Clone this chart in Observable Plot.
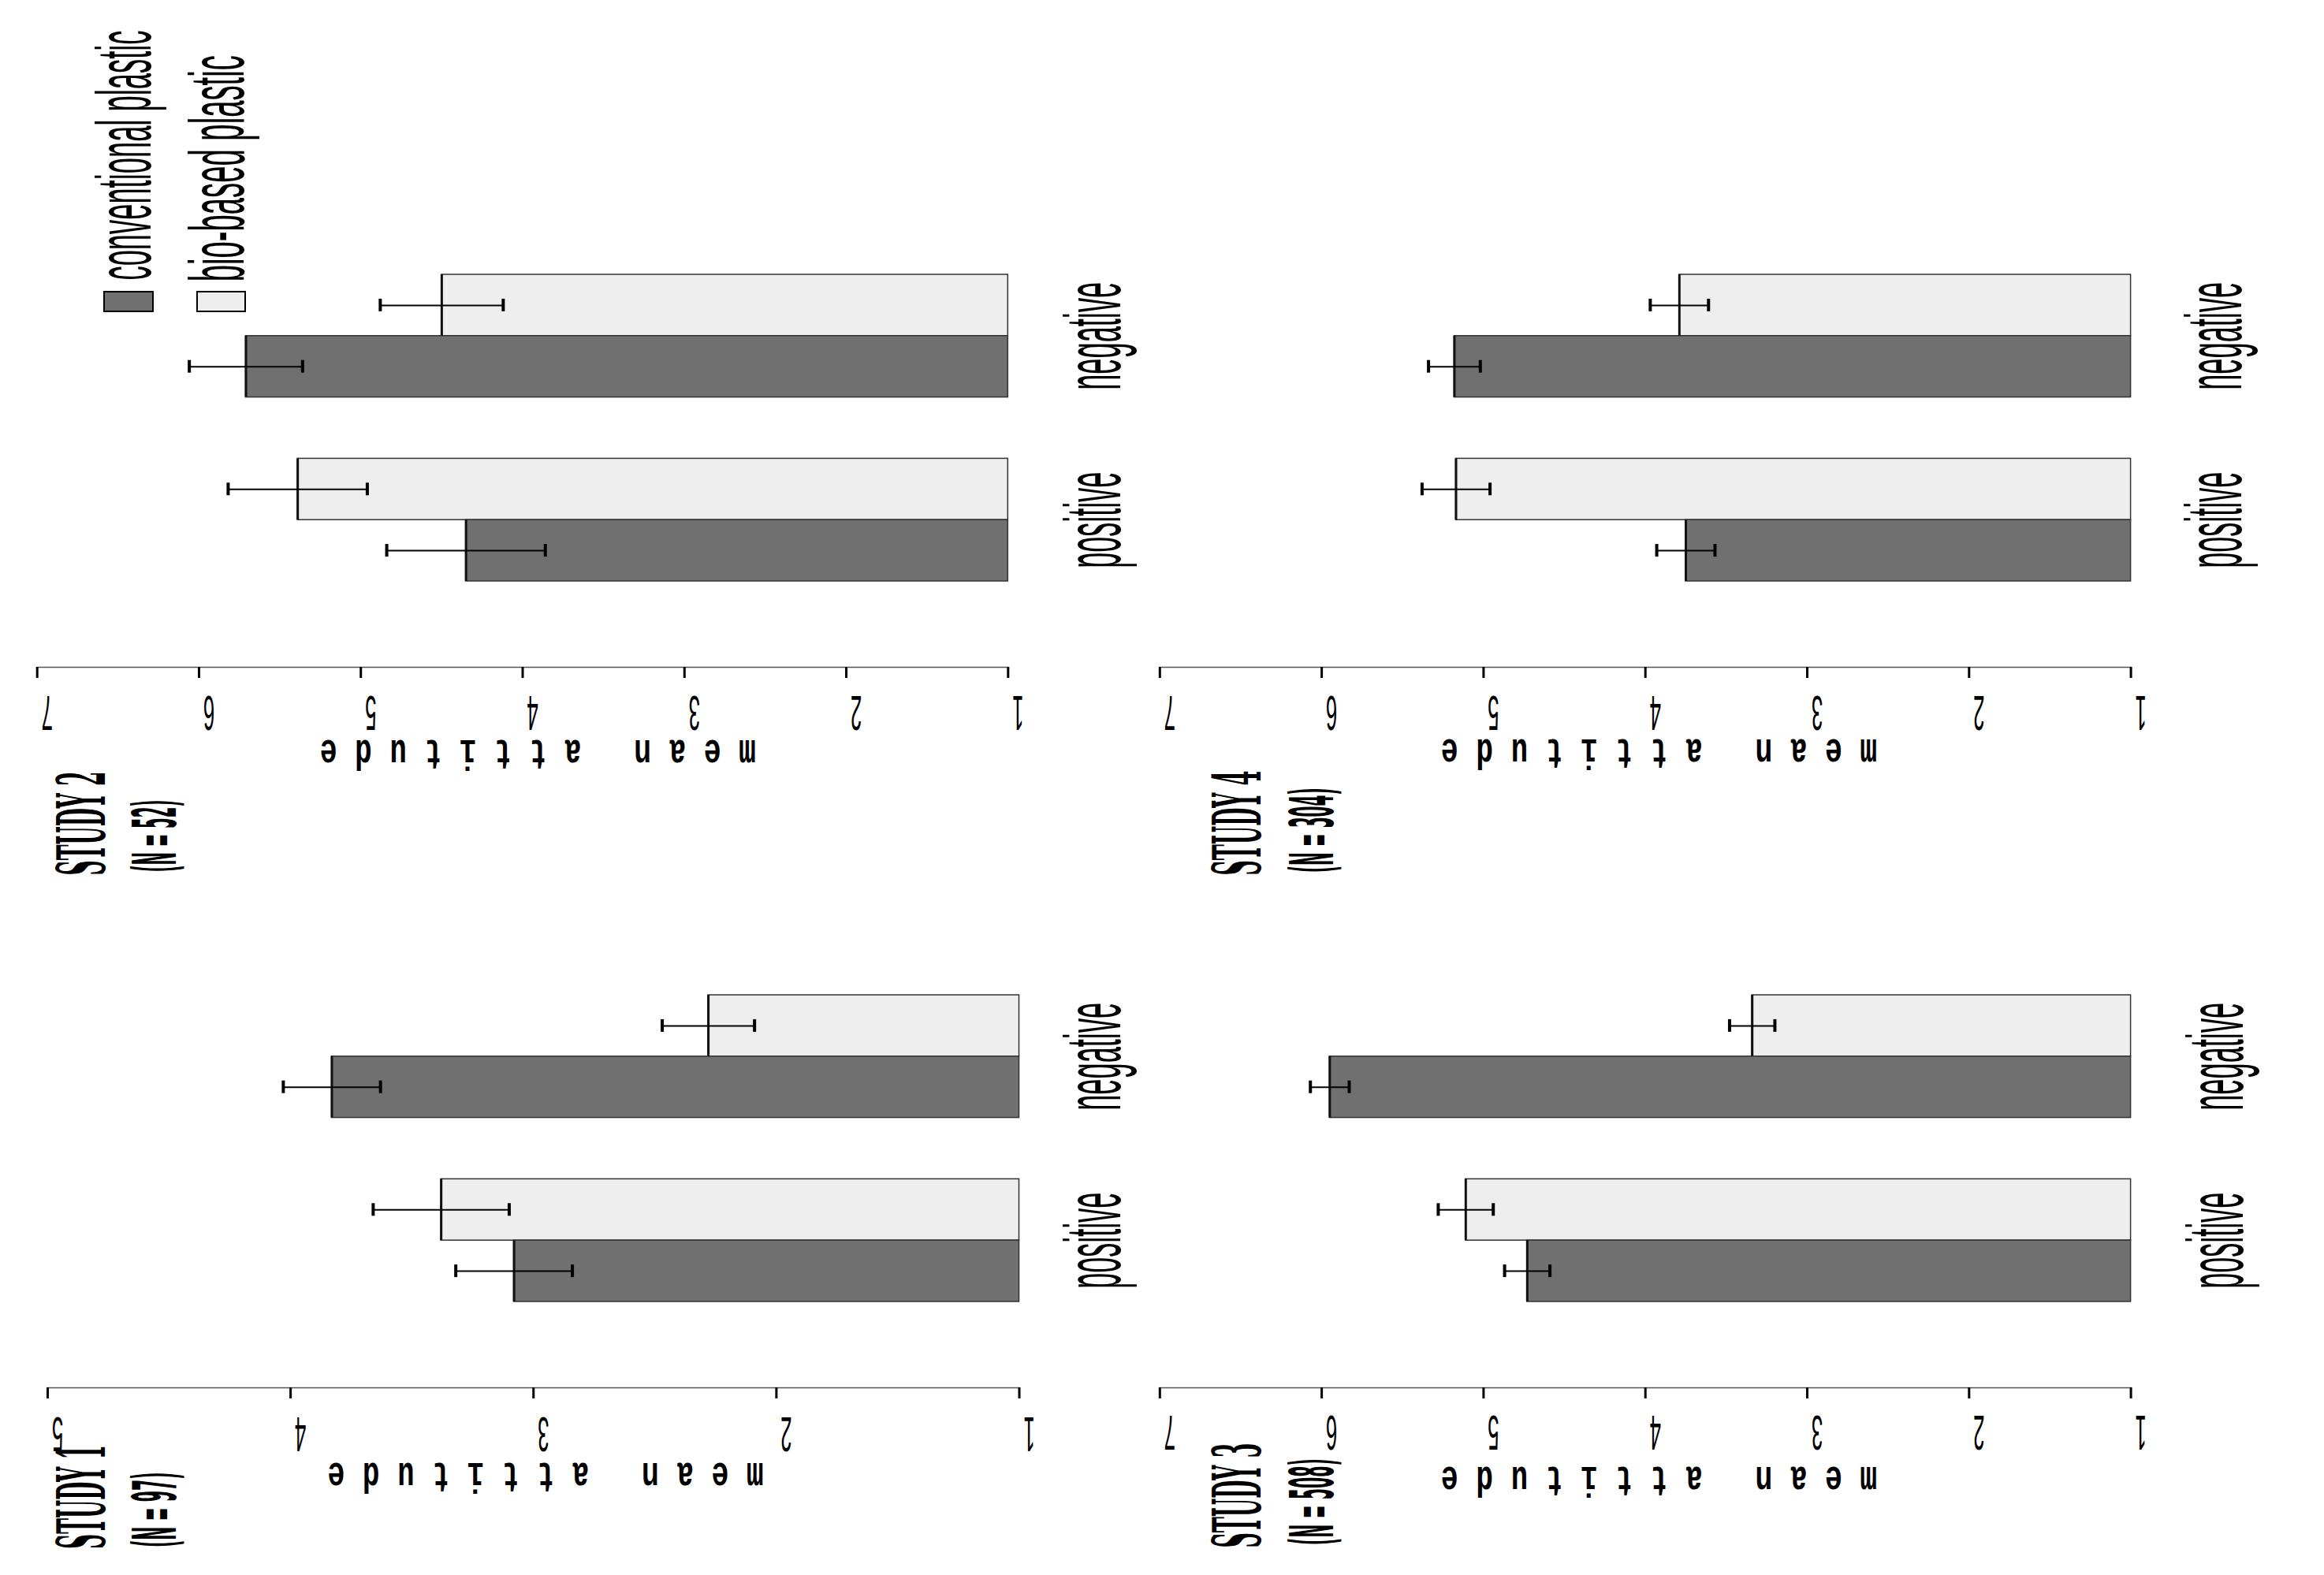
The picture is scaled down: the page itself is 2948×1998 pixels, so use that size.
<!DOCTYPE html>
<html>
<head>
<meta charset="utf-8">
<script src="https://cdn.jsdelivr.net/npm/d3@7"></script>
<script src="https://cdn.jsdelivr.net/npm/@observablehq/plot@0.6"></script>
<style>
html, body { margin: 0; padding: 0; background: #fff; }
#page { position: relative; width: 2948px; height: 1998px; overflow: hidden; background: #fff; }
#page svg { position: absolute; }
</style>
</head>
<body>
<div id="page"></div>
<script>
// ---------------- data ----------------
const studies = ["STUDY 1", "STUDY 2", "STUDY 3", "STUDY 4"];
const sampleSizes = ["(N = 97)", "(N = 52)", "(N = 508)", "(N = 304)"];
const framings = ["negative", "positive"];
const materials = ["conventional plastic", "bio-based plastic"];
const materialColors = ["#707070", "#eeeeee"];
const scaleMin = 1;
const scaleMax = [5, 7, 7, 7];
const tickLabels = [
  [1, 2, 3, 4, 5],
  [1, 2, 3, 4, 5, 6, 7],
  [1, 2, 3, 4, 5, 6, 7],
  [1, 2, 3, 4, 5, 6, 7]
];
const convNegative = [3.83, 5.71, 5.95, 5.18];
const bioNegative  = [2.28, 4.50, 3.34, 3.79];
const convPositive = [3.08, 4.35, 4.73, 3.75];
const bioPositive  = [3.38, 5.39, 5.11, 5.17];
const convNegativeErr = [0.20, 0.35, 0.12, 0.16];
const bioNegativeErr  = [0.19, 0.38, 0.14, 0.18];
const convPositiveErr = [0.24, 0.49, 0.14, 0.18];
const bioPositiveErr  = [0.28, 0.43, 0.17, 0.21];
const axisLabel = "mean attitude";

// ---------------- layout (positions / styles) ----------------
const H = 999;
const BAR = 77.8;   // bar thickness
const CAP = 8;      // half cap length
const layout = [
  {left: 0,    top: 999, width: 1474, mL: 60,   mR: 181.5, barTop: 263, axisY: 761, catDx: 127.5,
   titleDx: 72,    titleDy: 204.5, titleLen: 132, nDx: 166,   nDy: 202.6, nLen: 95.6, tickDy: 37, labDy: 95, labDx: 4},
  {left: 0,    top: 0,   width: 1474, mL: 46.7, mR: 195.7, barTop: 348, axisY: 846, catDx: 142,
   titleDx: 85.3,  titleDy: 264,   titleLen: 132, nDx: 179.3, nDy: 260,   nLen: 92,   tickDy: 36, labDy: 92, labDx: 8, legend: true},
  {left: 1420, top: 999, width: 1528, mL: 50.8, mR: 245.4, barTop: 263, axisY: 761, catDx: 142,
   titleDx: 127.2, titleDy: 203,   titleLen: 133, nDx: 223.2, nDy: 199.7, nLen: 110,  tickDy: 35, labDy: 100, labDx: 6},
  {left: 1420, top: 0,   width: 1528, mL: 50.8, mR: 245.4, barTop: 348, axisY: 846, catDx: 140,
   titleDx: 127.2, titleDy: 264,   titleLen: 133, nDx: 223.2, nDy: 260.7, nLen: 108,  tickDy: 36, labDy: 91, labDx: 6}
];
const catLen = {negative: 137, positive: 122};
const legendLen = {"conventional plastic": 317, "bio-based plastic": 287};

function rowsFor(s) {
  return [
    {framing: framings[0], material: materials[0], mean: convNegative[s], err: convNegativeErr[s]},
    {framing: framings[0], material: materials[1], mean: bioNegative[s],  err: bioNegativeErr[s]},
    {framing: framings[1], material: materials[0], mean: convPositive[s], err: convPositiveErr[s]},
    {framing: framings[1], material: materials[1], mean: bioPositive[s],  err: bioPositiveErr[s]}
  ];
}

function panel(s) {
  const L = layout[s];
  const rows = rowsFor(s);
  const conv = rows.filter(d => d.material === materials[0]);
  const bio = rows.filter(d => d.material === materials[1]);
  const near = BAR / 2 - CAP;           // inset on the near side of a half band
  const far = 2 * BAR - BAR / 2 - CAP;  // inset on the far side
  const lo = d => d.mean - d.err;
  const hi = d => d.mean + d.err;

  const marks = [
    Plot.barX(bio,  {y: "framing", x1: () => scaleMin, x2: "mean", fill: "material", stroke: "#333", strokeWidth: 1.5, insetBottom: BAR}),
    Plot.barX(conv, {y: "framing", x1: () => scaleMin, x2: "mean", fill: "material", stroke: "#333", strokeWidth: 1.5, insetTop: BAR}),
    Plot.tickX(bio,  {x: "mean", y: "framing", insetBottom: BAR, stroke: "#111", strokeWidth: 3}),
    Plot.tickX(conv, {x: "mean", y: "framing", insetTop: BAR, stroke: "#111", strokeWidth: 3}),
    // error bars
    Plot.ruleY(bio,  {y: "framing", x1: lo, x2: hi, dy: -BAR / 2, stroke: "#000", strokeWidth: 2}),
    Plot.ruleY(conv, {y: "framing", x1: lo, x2: hi, dy: BAR / 2, stroke: "#000", strokeWidth: 2}),
    Plot.tickX(bio,  {x: lo, y: "framing", insetTop: near, insetBottom: far, stroke: "#000", strokeWidth: 4}),
    Plot.tickX(bio,  {x: hi, y: "framing", insetTop: near, insetBottom: far, stroke: "#000", strokeWidth: 4}),
    Plot.tickX(conv, {x: lo, y: "framing", insetTop: far, insetBottom: near, stroke: "#000", strokeWidth: 4}),
    Plot.tickX(conv, {x: hi, y: "framing", insetTop: far, insetBottom: near, stroke: "#000", strokeWidth: 4}),
    // axis
    Plot.frame({anchor: "bottom", stroke: "#555", strokeWidth: 1.5}),
    Plot.axisX({ticks: tickLabels[s], tickSize: 14, stroke: "#000", strokeWidth: 3, fill: "none"}),
    Plot.text(tickLabels[s], {x: d => d, text: d => String(d), frameAnchor: "bottom", rotate: 180,
      textAnchor: "middle", lineAnchor: "bottom", dy: L.tickDy, dx: 12.5, fontSize: 63,
      fontFamily: "Liberation Sans", fill: "#000", ariaDescription: "tick-label"}),
    Plot.text([axisLabel], {frameAnchor: "bottom", rotate: 180, textAnchor: "middle", lineAnchor: "bottom",
      dy: L.labDy, dx: L.labDx, fontSize: 54, fontWeight: "bold", fontFamily: "Liberation Mono", fill: "#000", ariaDescription: "axis-label"}),
    // category labels
    Plot.text(framings, {y: d => d, text: d => d, frameAnchor: "right", rotate: -90, textAnchor: "middle",
      lineAnchor: "bottom", dx: L.catDx, fontSize: 100, fontFamily: "Liberation Sans", fill: "#000", ariaDescription: "category"}),
    // study titles
    Plot.text([studies[s]], {frameAnchor: "bottom-left", rotate: -90, textAnchor: "start", lineAnchor: "bottom",
      dx: L.titleDx, dy: L.titleDy, fontSize: 85, fontWeight: "bold", fontFamily: "DejaVu Serif", fill: "#000", ariaDescription: "title"}),
    Plot.text([sampleSizes[s]], {frameAnchor: "bottom-left", rotate: -90, textAnchor: "start", lineAnchor: "bottom",
      dx: L.nDx - 4, dy: L.nDy, fontSize: 76, fontWeight: "bold", fontFamily: "DejaVu Sans", fill: "#000", ariaDescription: "sample"})
  ];

  if (L.legend) {
    const frameRight = L.width - L.mR;
    const frameBottom = L.axisY;
    const box = (x1, x2, y1, y2) => ({insetLeft: x1 - L.mL, insetRight: frameRight - x2, insetTop: y1 - L.barTop, insetBottom: frameBottom - y2});
    marks.push(
      Plot.rect([materials[0]], {fill: d => d, stroke: "#000", strokeWidth: 2, ...box(132, 194, 370, 395)}),
      Plot.rect([materials[1]], {fill: d => d, stroke: "#000", strokeWidth: 2, ...box(250, 311, 370, 395)}),
      Plot.text([materials[0]], {frameAnchor: "top-left", rotate: -90, textAnchor: "start", lineAnchor: "bottom",
        dx: 190.7 - L.mL, dy: 355 - L.barTop, fontSize: 98, fontFamily: "Liberation Sans", fill: "#000", ariaDescription: "legend"}),
      Plot.text([materials[1]], {frameAnchor: "top-left", rotate: -90, textAnchor: "start", lineAnchor: "bottom",
        dx: 308.7 - L.mL, dy: 356.7 - L.barTop, fontSize: 98, fontFamily: "Liberation Sans", fill: "#000", ariaDescription: "legend"})
    );
  }

  const svg = Plot.plot({
    width: L.width,
    height: H,
    marginLeft: L.mL,
    marginRight: L.mR,
    marginTop: L.barTop,
    marginBottom: H - L.axisY,
    x: {domain: [scaleMin, scaleMax[s]], reverse: true, axis: null},
    y: {domain: framings, paddingInner: 1 / 3, paddingOuter: 0, round: false, axis: null,
        insetBottom: L.axisY - L.barTop - 5 * BAR},
    color: {domain: materials, range: materialColors},
    marks
  });

  svg.style.position = "absolute";
  svg.style.left = L.left + "px";
  svg.style.top = L.top + "px";
  svg.style.background = "none";
  svg.style.maxWidth = "none";
  svg.style.overflow = "visible";
  return svg;
}

// condense the texts (the reference uses a very narrow face)
function condense(svg, L) {
  const q = (label, fontSize) => {
    let found = svg.querySelectorAll(`g[aria-description="${label}"] text`);
    if (!found.length && fontSize) found = svg.querySelectorAll(`g[font-size="${fontSize}"] text`);
    return found;
  };
  const squeeze = (t, sx) => t.setAttribute("transform", (t.getAttribute("transform") || "") + ` scale(${sx},1)`);
  const fitTo = (t, len) => {
    const natural = t.getComputedTextLength();
    if (natural > 0) squeeze(t, len / natural);
  };
  q("tick-label", 63).forEach(t => squeeze(t, 0.41));
  q("axis-label", 54).forEach(t => { t.setAttribute("letter-spacing", "33.7"); squeeze(t, 0.67); });
  q("category", 100).forEach(t => fitTo(t, catLen[t.textContent]));
  q("title", 85).forEach(t => fitTo(t, L.titleLen));
  q("sample", 76).forEach(t => fitTo(t, L.nLen));
  q("legend", 98).forEach(t => fitTo(t, legendLen[t.textContent]));
}

const page = document.getElementById("page");
[0, 1, 2, 3].forEach(s => {
  const svg = panel(s);
  page.appendChild(svg);
  condense(svg, layout[s]);
});
</script>
</body>
</html>
